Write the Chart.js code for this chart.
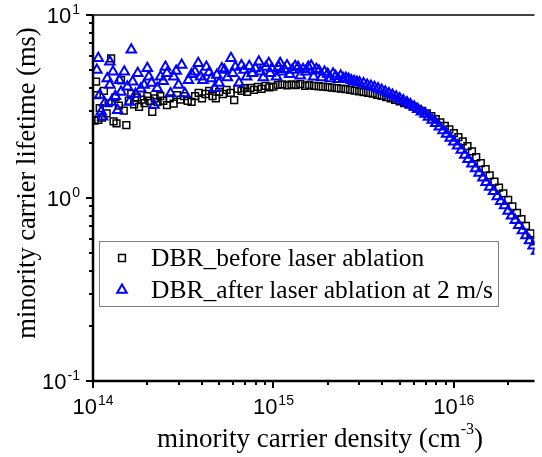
<!DOCTYPE html>
<html>
<head>
<meta charset="utf-8">
<script src="https://cdn.jsdelivr.net/npm/chart.js@4/dist/chart.umd.min.js"></script>
<style>
  html, body { margin: 0; padding: 0; background: #fff; }
  #wrap { width: 542px; height: 457px; }
</style>
</head>
<body>
<div id="wrap"><canvas id="lifetimeChart" width="542" height="457"></canvas></div>
<script>
// minority carrier density (cm^-3) and lifetime (ms)
const beforeDensity = [
    1.02e14, 1.04e14, 1.05e14, 1.07e14, 1.09e14, 1.12e14, 1.15e14, 1.19e14, 1.22e14, 1.26e14,
    1.30e14, 1.33e14, 1.35e14, 1.39e14, 1.43e14, 1.48e14, 1.53e14, 1.58e14, 1.63e14, 1.69e14,
    1.75e14, 1.80e14, 1.86e14, 1.93e14, 2.00e14, 2.06e14, 2.13e14, 2.20e14, 2.28e14, 2.36e14,
    2.45e14, 2.57e14, 2.66e14, 2.80e14, 2.92e14, 3.05e14, 3.20e14, 3.35e14, 3.52e14, 3.68e14,
    3.85e14, 4.02e14, 4.20e14, 4.40e14, 4.60e14, 4.80e14, 5.00e14, 5.25e14, 5.50e14, 5.80e14,
    6.06e14, 6.32e14, 6.65e14, 6.95e14, 7.15e14, 7.45e14, 7.80e14, 8.20e14, 8.60e14, 9.05e14,
    9.50e14, 1.00e15, 1.06e15, 1.12e15, 1.19e15, 1.26e15, 1.33e15, 1.41e15, 1.50e15, 1.58e15,
    1.68e15, 1.78e15, 1.88e15, 2.00e15, 2.11e15, 2.24e15, 2.37e15, 2.51e15, 2.66e15, 2.82e15,
    2.99e15, 3.16e15, 3.35e15, 3.55e15, 3.76e15, 3.98e15, 4.22e15, 4.47e15, 4.73e15, 5.01e15,
    5.31e15, 5.62e15, 5.96e15, 6.31e15, 6.68e15, 7.08e15, 7.50e15, 7.94e15, 8.41e15, 8.91e15,
    9.44e15, 1.00e16, 1.06e16, 1.12e16, 1.19e16, 1.26e16, 1.33e16, 1.41e16, 1.50e16, 1.58e16,
    1.68e16, 1.78e16, 1.88e16, 2.00e16, 2.11e16, 2.24e16, 2.37e16, 2.51e16, 2.66e16, 2.82e16
];
const beforeLifetime = [
    2.65, 4.32, 3.65, 2.67, 3.10, 2.75, 3.85, 2.90, 3.30, 5.80,
    2.62, 3.55, 2.56, 3.20, 4.40, 3.00, 2.50, 3.40, 3.70, 3.25,
    3.55, 3.15, 3.45, 3.30, 3.60, 3.40, 2.96, 3.50, 3.35, 3.60,
    3.40, 3.22, 3.50, 3.28, 3.65, 3.45, 3.60, 3.40, 3.35, 3.60,
    3.75, 3.50, 3.70, 3.85, 3.60, 3.50, 3.80, 3.70, 3.90, 3.75,
    3.43, 3.95, 3.85, 3.98, 3.80, 4.00, 3.90, 4.05, 3.95, 4.10,
    4.02, 4.06, 4.15, 4.18, 4.12, 4.17, 4.14, 4.19, 4.10, 4.15,
    4.10, 4.08, 4.06, 4.04, 4.01, 3.99, 3.96, 3.94, 3.90, 3.86,
    3.83, 3.79, 3.76, 3.72, 3.66, 3.61, 3.56, 3.50, 3.44, 3.37,
    3.30, 3.24, 3.16, 3.07, 2.99, 2.90, 2.80, 2.70, 2.59, 2.48,
    2.37, 2.26, 2.15, 2.04, 1.92, 1.80, 1.67, 1.55, 1.44, 1.33,
    1.23, 1.14, 1.06, 0.977, 0.90, 0.83, 0.767, 0.705, 0.64, 0.58
];
const afterDensity = [
    1.05e14, 1.07e14, 1.09e14, 1.11e14, 1.13e14, 1.16e14, 1.20e14, 1.24e14, 1.24e14, 1.26e14,
    1.29e14, 1.33e14, 1.37e14, 1.40e14, 1.43e14, 1.49e14, 1.55e14, 1.59e14, 1.63e14, 1.66e14,
    1.72e14, 1.77e14, 1.84e14, 1.92e14, 2.00e14, 2.04e14, 2.11e14, 2.18e14, 2.27e14, 2.37e14,
    2.45e14, 2.52e14, 2.57e14, 2.69e14, 2.80e14, 2.89e14, 2.98e14, 3.10e14, 3.23e14, 3.38e14,
    3.52e14, 3.67e14, 3.83e14, 3.95e14, 4.07e14, 4.25e14, 4.40e14, 4.53e14, 4.72e14, 4.86e14,
    5.00e14, 5.18e14, 5.35e14, 5.55e14, 5.82e14, 5.95e14, 6.15e14, 6.45e14, 6.65e14, 6.88e14,
    7.10e14, 7.35e14, 7.64e14, 7.95e14, 8.30e14, 8.47e14, 8.80e14, 9.10e14, 9.42e14, 9.60e14,
    9.80e14, 1.04e15, 1.07e15, 1.09e15, 1.11e15, 1.15e15, 1.19e15, 1.23e15, 1.27e15, 1.32e15,
    1.37e15, 1.41e15, 1.46e15, 1.51e15, 1.56e15, 1.62e15, 1.67e15, 1.73e15, 1.79e15, 1.85e15,
    1.92e15, 2.00e15, 2.07e15, 2.14e15, 2.21e15, 2.29e15, 2.36e15, 2.44e15, 2.52e15, 2.61e15,
    2.70e15, 2.80e15, 2.90e15, 3.00e15, 3.16e15, 3.31e15, 3.47e15, 3.63e15, 3.80e15, 3.98e15,
    4.17e15, 4.37e15, 4.57e15, 4.79e15, 5.01e15, 5.25e15, 5.50e15, 5.75e15, 6.03e15, 6.31e15,
    6.61e15, 6.92e15, 7.24e15, 7.59e15, 7.94e15, 8.32e15, 8.71e15, 9.12e15, 9.55e15, 1.00e16,
    1.05e16, 1.10e16, 1.15e16, 1.20e16, 1.26e16, 1.32e16, 1.38e16, 1.45e16, 1.51e16, 1.58e16,
    1.66e16, 1.74e16, 1.82e16, 1.91e16, 2.00e16, 2.09e16, 2.19e16, 2.29e16, 2.40e16, 2.51e16,
    2.63e16, 2.75e16, 2.88e16
];
const afterLifetime = [
    5.00, 5.80, 3.65, 2.96, 2.78, 3.30, 4.50, 5.55, 4.15, 3.35,
    4.90, 3.60, 3.02, 4.40, 3.80, 4.90, 4.05, 3.35, 6.45, 4.32,
    3.70, 4.80, 3.95, 4.15, 5.12, 4.60, 4.25, 3.22, 3.98, 4.60,
    4.35, 5.20, 4.80, 3.73, 4.60, 4.95, 4.15, 5.33, 3.73, 4.40,
    4.75, 4.90, 5.45, 4.60, 4.40, 5.20, 4.85, 4.50, 3.98, 4.70,
    4.25, 5.10, 5.00, 4.55, 5.80, 4.80, 5.20, 4.25, 5.30, 5.00,
    4.60, 5.25, 4.80, 5.10, 5.55, 4.90, 4.55, 5.20, 5.45, 4.80,
    5.10, 4.60, 5.20, 5.45, 4.90, 5.05, 5.30, 4.75, 5.00, 5.25,
    5.18, 4.65, 5.05, 4.90, 5.20, 5.28, 4.60, 5.05, 4.96, 4.55,
    4.88, 4.76, 4.50, 4.78, 4.62, 4.45, 4.66, 4.50, 4.52, 4.47,
    4.38, 4.35, 4.30, 4.28, 4.22, 4.15, 4.09, 4.03, 3.96, 3.89,
    3.81, 3.73, 3.66, 3.58, 3.50, 3.41, 3.33, 3.24, 3.15, 3.05,
    2.96, 2.88, 2.77, 2.67, 2.56, 2.45, 2.34, 2.24, 2.13, 2.03,
    1.93, 1.83, 1.72, 1.63, 1.54, 1.45, 1.37, 1.29, 1.22, 1.15,
    1.09, 1.02, 0.96, 0.91, 0.85, 0.80, 0.755, 0.71, 0.665, 0.624,
    0.585, 0.548, 0.513
];
const seriesLabels = ["DBR_before laser ablation", "DBR_after laser ablation at 2 m/s"];
const xDecades = [14, 15, 16];
const yDecades = [-1, 0, 1];

const tickFont = '22px "Liberation Sans", Arial, sans-serif';
const supFont = '14px "Liberation Sans", Arial, sans-serif';
const xTitleFont = '27px "Liberation Serif", "Times New Roman", serif';
const yTitleFont = '26.5px "Liberation Serif", "Times New Roman", serif';
const titleSup = '16px "Liberation Serif", "Times New Roman", serif';
const legendFont = '25.5px "Liberation Serif", "Times New Roman", serif';

function toPoints(xs, ys) {
    return xs.map((x, i) => ({ x: x, y: ys[i] }));
}

// "10" with a raised exponent; ax is the anchor, align is 'center' or 'right'
function drawPower(ctx, exp, ax, baseline, align) {
    ctx.font = tickFont;
    const wb = ctx.measureText("10").width;
    ctx.font = supFont;
    const ws = ctx.measureText(exp).width;
    const total = wb + 1 + ws;
    let left = align === 'right' ? ax - total : ax - total / 2;
    ctx.textAlign = 'left';
    ctx.textBaseline = 'alphabetic';
    ctx.font = tickFont;
    ctx.fillText("10", left, baseline);
    ctx.font = supFont;
    ctx.fillText(exp, left + wb + 1, baseline - 9);
}

function tick(ctx, x1, y1, x2, y2) {
    ctx.beginPath();
    ctx.moveTo(x1, y1);
    ctx.lineTo(x2, y2);
    ctx.stroke();
}

const frame = {
    id: 'frame',
    afterDatasetsDraw(chart) {
        const ctx = chart.ctx;
        const xs = chart.scales.x;
        const ys = chart.scales.y;
        const a = chart.chartArea;
        ctx.save();
        ctx.strokeStyle = '#000';
        ctx.fillStyle = '#000';

        // top border line
        ctx.lineWidth = 1.5;
        tick(ctx, a.left, a.top, a.right, a.top);

        // left and bottom axes
        ctx.lineWidth = 2.5;
        ctx.beginPath();
        ctx.moveTo(a.left, a.top);
        ctx.lineTo(a.left, a.bottom);
        ctx.lineTo(a.right, a.bottom);
        ctx.stroke();

        // ticks on the log axes
        ctx.lineWidth = 2;
        xDecades.forEach(d => {
            for (let m = 1; m < 10; m++) {
                const v = m * Math.pow(10, d);
                if (v > xs.max) break;
                const px = Math.round(xs.getPixelForValue(v));
                tick(ctx, px, a.bottom, px, a.bottom + (m === 1 ? 7 : 4));
            }
        });
        yDecades.forEach(d => {
            for (let m = 1; m < 10; m++) {
                const v = m * Math.pow(10, d);
                if (v > ys.max) break;
                const py = Math.round(ys.getPixelForValue(v));
                tick(ctx, a.left, py, a.left - (m === 1 ? 7 : 4), py);
            }
        });

        // tick labels
        xDecades.forEach(d => {
            drawPower(ctx, String(d), xs.getPixelForValue(Math.pow(10, d)), a.bottom + 33, 'center');
        });
        yDecades.forEach(d => {
            drawPower(ctx, String(d), a.left - 13, ys.getPixelForValue(Math.pow(10, d)) + 8, 'right');
        });

        // x axis title with cm^-3
        ctx.font = xTitleFont;
        const t1 = "minority carrier density (cm";
        const w1 = ctx.measureText(t1).width;
        ctx.font = titleSup;
        const w2 = ctx.measureText("-3").width;
        ctx.font = xTitleFont;
        const w3 = ctx.measureText(")").width;
        let tx = 320 - (w1 + w2 + w3) / 2;
        ctx.textAlign = 'left';
        ctx.fillText(t1, tx, 447);
        ctx.font = titleSup;
        ctx.fillText("-3", tx + w1, 434);
        ctx.font = xTitleFont;
        ctx.fillText(")", tx + w1 + w2, 447);

        // y axis title
        ctx.save();
        ctx.translate(35, 183);
        ctx.rotate(-Math.PI / 2);
        ctx.font = yTitleFont;
        ctx.textAlign = 'center';
        ctx.fillText("minority carrier lifetime (ms)", 0, 0);
        ctx.restore();

        // legend
        ctx.strokeStyle = '#808080';
        ctx.lineWidth = 1;
        ctx.strokeRect(99.5, 241.5, 399, 65);
        const rows = [258, 290];
        chart.data.datasets.forEach((ds, i) => {
            ctx.strokeStyle = ds.borderColor;
            ctx.fillStyle = 'rgba(0,0,0,0)';
            ctx.lineWidth = ds.borderWidth;
            Chart.helpers.drawPoint(ctx, {
                pointStyle: ds.pointStyle,
                radius: ds.pointRadius,
                rotation: 0,
                borderWidth: ds.borderWidth
            }, 122, rows[i]);
            ctx.fillStyle = '#000';
            ctx.font = legendFont;
            ctx.textAlign = 'left';
            ctx.textBaseline = 'alphabetic';
            ctx.fillText(seriesLabels[i], 151, rows[i] + 8);
        });
        ctx.restore();
    }
};

new Chart(document.getElementById("lifetimeChart"), {
    type: "scatter",
    data: {
        datasets: [
            {
                label: seriesLabels[0],
                data: toPoints(beforeDensity, beforeLifetime),
                pointStyle: "rect",
                pointRadius: 4.8,
                borderWidth: 1.5,
                borderColor: "#000000",
                backgroundColor: "rgba(0,0,0,0)",
                order: 2,
                clip: 0
            },
            {
                label: seriesLabels[1],
                data: toPoints(afterDensity, afterLifetime),
                pointStyle: "triangle",
                pointRadius: 5.5,
                borderWidth: 2,
                borderColor: "#0000ff",
                backgroundColor: "rgba(0,0,0,0)",
                order: 1,
                clip: 0
            }
        ]
    },
    options: {
        responsive: false,
        animation: false,
        events: [],
        layout: { padding: { left: 93, right: 0, top: 15, bottom: 76 } },
        scales: {
            x: { type: "logarithmic", min: 1e14, max: 2.8e16, display: false },
            y: { type: "logarithmic", min: 0.1, max: 10, display: false }
        },
        plugins: {
            legend: { display: false },
            tooltip: { enabled: false }
        }
    },
    plugins: [frame]
});
</script>
</body>
</html>
